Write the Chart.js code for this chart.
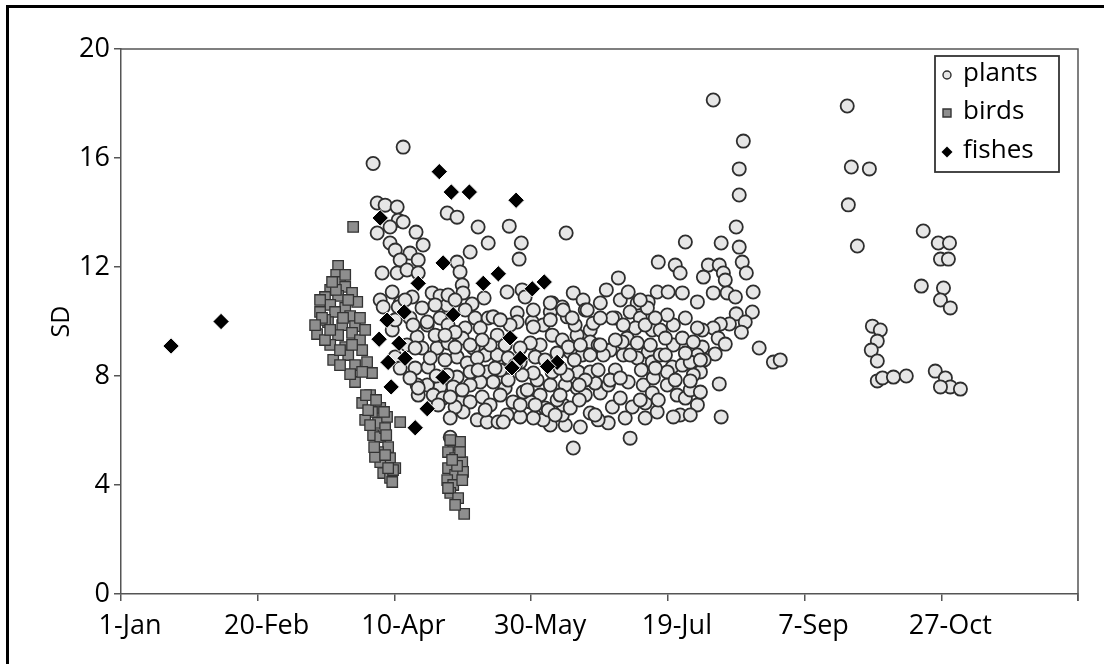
<!DOCTYPE html>
<html><head><meta charset="utf-8">
<script src="https://cdn.jsdelivr.net/npm/chart.js@4.4.1/dist/chart.umd.min.js"></script>
<style>
html,body{margin:0;padding:0;background:#fff;}
#wrap{position:relative;width:1104px;height:664px;overflow:hidden;background:#fff;}
#frame{position:absolute;left:6px;top:5px;width:1200px;height:800px;border:3px solid #000;box-sizing:border-box;pointer-events:none;}
canvas{position:absolute;left:0;top:0;}
</style></head><body>
<div id="wrap"><canvas id="c" width="1104" height="664"></canvas><div id="frame"></div></div>
<script>
// x = day of year (0 = 1-Jan), y = SD
const xTicks = [0, 50, 100, 150, 200, 250, 300, 350];
const xTickLabels = ['1-Jan', '20-Feb', '10-Apr', '30-May', '19-Jul', '7-Sep', '27-Oct', ''];
const yTicks = [0, 4, 8, 12, 16, 20];
const seriesNames = ['plants', 'birds', 'fishes'];

const plants = [
[103.2,16.4],[92.2,15.8],[93.7,14.35],[96.6,14.27],[101.0,14.2],[101.4,13.72],[93.7,13.25],[98.4,13.47],[103.2,13.65],[119.3,13.98],[122.9,13.83],[130.6,13.47],[134.3,12.88],[127.7,12.55],[107.9,13.28],[110.5,12.81],[98.4,12.88],[100.3,12.62],[105.7,12.51],[102.1,12.26],[108.7,12.26],[95.5,11.78],[101.0,11.78],[104.6,11.89],[108.7,11.78],[122.9,12.18],[124.0,11.82],[124.8,11.34],[125.1,11.05],[99.2,11.08],[94.8,10.79],[106.5,10.90],[113.8,11.05],[116.7,10.94],[132.8,10.86],[128.4,10.64],
[142.0,13.50],[146.4,12.88],[145.6,12.29],[162.8,13.25],[206.4,12.92],[196.5,12.18],[202.7,12.07],[204.5,11.78],[181.9,11.60],[177.5,11.16],[165.4,11.05],[169.0,10.79],[157.7,10.68],[141.2,11.08],[146.7,11.16],[196.1,11.08],[200.1,11.08],[205.3,11.05],[210.8,10.72],[192.8,10.72],[147.8,10.9],[188.8,10.68],[102.1,10.68],[119.3,10.6],
[216.6,18.13],[227.6,16.62],[226.1,15.60],[226.1,14.64],[225.0,13.47],[219.5,12.88],[226.1,12.73],[227.2,12.18],[228.7,11.78],[214.8,12.07],[218.8,12.07],[213.0,11.63],[220.3,11.78],[221.0,11.52],[231.2,11.08],[216.6,11.05],[221.7,11.05],[224.7,10.90],
[265.6,17.91],[267.1,15.67],[273.7,15.60],[266.0,14.28],[269.3,12.77],
[230.9,10.35],[225.0,10.28],[228.3,9.98],[222.5,9.91],[219.2,9.91],[216.6,9.76],[226.9,9.61],[212.6,9.69],[218.4,9.39],[221.0,9.17],[212.6,9.06],[217.3,8.81],[213.3,8.59],[211.9,8.15],[233.4,9.03],[238.6,8.51],[241.1,8.59],[218.8,7.71],[219.5,6.50],
[274.8,9.83],[277.7,9.69],[276.6,9.28],[274.4,8.95],[276.6,8.55],[276.6,7.82],[278.5,7.93],[282.5,7.96],
[287.2,8.0],[297.8,8.18],[301.5,7.93],[303.3,7.60],[299.7,7.60],[307.0,7.52],
[293.4,13.32],[298.9,12.88],[303.0,12.88],[299.7,12.29],[302.6,12.29],[292.7,11.30],[300.8,11.23],[299.7,10.79],[303.3,10.50],
[95.9,10.53],[101.4,10.53],[110.1,10.50],[105.7,10.13],[112.0,9.87],[116.7,10.13],[119.6,9.87],[125.9,10.42],[129.5,10.13],[134.3,10.13],[131.4,9.76],[125.9,9.76],[137.6,9.50],[108.3,9.43],[104.6,9.14],[110.1,9.03],[115.6,9.03],[119.6,9.21],[124.8,9.39],[128.8,9.03],[133.2,8.77],[137.6,8.77],[100.3,8.70],[102.1,8.29],[107.6,8.29],[112.3,8.33],[122.9,8.70],[126.6,8.48],[130.3,8.66],[133.9,8.15],[136.1,7.78],[131.4,7.78],[127.7,7.67],[122.9,7.96],[121.5,7.60],[116.7,7.60],[112.0,7.67],[108.3,7.67],[108.7,7.30],[114.2,7.30],[117.8,7.19],[124.0,7.05],[127.7,7.05],[132.1,7.23],[135.0,6.94],[125.1,6.68],[130.3,6.39],[133.9,6.31],[137.9,6.31],[116.0,6.94],[122.2,6.86],
[106.8,9.87],[112.0,9.98],[107.6,9.03],[108.7,7.56],[120.4,5.75],
[144.9,10.31],[150.4,9.98],[154.4,9.87],[157.0,10.35],[163.2,10.17],[161.4,10.53],[169.8,10.42],[180.8,10.13],[186.2,10.35],[189.9,10.13],[192.5,10.50],[188.1,9.76],[185.1,9.39],[188.8,9.21],[192.8,8.88],[188.8,8.66],[183.7,8.77],[178.9,8.95],[176.4,8.77],[180.8,8.22],[185.5,7.78],[191.0,7.67],[194.7,7.93],[202.0,9.14],[205.3,9.39],[209.3,9.25],[201.6,8.33],[205.3,8.40],[209.3,8.04],[203.4,7.30],[199.8,7.67],[206.4,7.19],[204.5,6.57],[202.0,6.50],[196.1,6.68],[191.7,7.01],[187.0,6.86],[179.7,6.86],[175.3,7.38],[178.2,7.67],[173.4,7.74],[171.6,9.69],[171.6,9.25],[166.8,9.50],[164.3,8.88],[168.7,8.77],[167.2,8.15],[171.6,8.15],[166.8,7.56],[169.8,7.30],[171.6,6.64],[168.0,6.13],[162.5,6.20],[157.0,6.20],[154.4,6.39],[150.8,6.46],[146.0,6.50],[141.2,6.57],[139.8,6.31],[161.4,6.57],[161.7,6.94],[164.3,6.83],[159.5,7.12],[153.3,7.30],[149.7,7.05],[147.1,7.41],[143.4,7.05],[140.5,7.56],[152.2,7.85],[148.6,7.49],[157.0,7.67],[162.5,7.67],[163.2,8.04],[157.7,8.15],[150.8,8.11],[146.7,8.04],[141.6,7.85],[153.3,9.14],[149.7,9.21],[146.0,9.03],[157.7,9.50],[161.4,9.32],[163.6,9.06],[168.0,9.14],[159.5,8.84],[166.1,9.87],[178.2,6.28],[186.2,5.72],[165.4,5.36],[179.7,10.13],[183.7,9.87],[174.5,8.22],[178.9,7.85],[194.3,8.51],[197.2,8.77],[199.8,8.15],[194.3,7.38],[206.4,10.13],[202.0,9.87],[210.8,9.76],[210.8,8.77],[210.8,6.94],[199.8,10.24],[194.3,9.69],
[99.2,9.69],[114.9,9.50],[122.2,9.61],[135.0,9.14],[118.5,8.59],[127.7,8.15],[120.4,6.46],[140.5,9.14],[141.6,8.66],[138.7,8.22],
[119.6,10.97],[136.1,10.17],[150.8,10.42],[157.0,10.68],[161.7,10.42],[170.5,10.42],[172.7,9.94],[157.0,10.06],[150.8,9.80],[144.9,9.98],
[182.6,10.79],[175.3,10.13],[197.2,9.69],[191.7,9.87],[183.3,9.25],[193.6,9.14],[199.1,8.77],[190.3,8.22],[182.6,7.19],[196.5,7.12],[208.2,7.49],[208.2,8.51],[191.7,6.46],[184.4,6.46],
[146.0,8.51],[142.3,9.87],[151.5,8.70],[155.1,6.83],[146.0,6.94],[167.6,7.12],[174.5,6.39],
[103.9,10.79],[114.9,10.61],[122.2,10.79],[100.3,10.06],[118.5,9.50],[127.7,9.14],[132.1,9.32],[138.7,10.06],[113.1,8.66],[122.2,9.06],[136.8,8.29],[130.6,8.22],[124.8,7.49],[119.3,8.04],[115.3,8.00],[105.7,7.93],[133.2,6.75],[138.7,7.30],[120.4,7.23],
[144.2,8.40],[155.1,8.59],[160.6,8.29],[165.8,8.59],[171.6,8.77],[174.5,9.14],[169.8,7.85],[160.6,7.30],[156.3,6.75],[173.4,6.57],
[165.0,10.13],[175.3,10.68],[189.9,10.79],[185.5,11.08],[195.4,10.13],[175.3,9.14],[180.8,9.32],[186.2,8.77],[195.4,8.29],[202.7,7.85],[211.9,7.41],[211.9,8.59],[182.6,7.93],[189.9,7.12],[208.2,6.57],[158.8,6.57],[151.5,6.94],[167.6,7.67],[206.4,8.84],[199.1,9.39],[208.2,7.82]
];

const birds = [
[84.9,13.47],[79.4,12.04],[78.7,11.71],[80.1,11.45],[76.5,11.16],[82.0,11.27],[74.6,10.90],[79.4,10.94],[84.5,11.05],[86.4,10.72],[76.5,10.61],[82.0,10.50],[72.8,10.35],[78.3,10.35],[83.8,10.20],[75.7,9.98],[80.9,9.87],[85.6,9.83],[71.7,9.54],[79.4,9.50],[84.5,9.58],[87.4,9.32],[76.5,9.14],[82.0,9.06],[77.6,8.59],[83.1,8.77],[88.2,8.95],[85.6,8.40],[90.0,8.51],[91.8,8.11],[85.6,7.78],[83.8,8.07],[80.1,8.95],[74.6,10.06],[78.6,11.16],
[73.5,10.13],[81.2,10.13],[87.4,10.13],[83.1,10.79],[74.6,9.32],[89.3,9.69],[80.1,8.40],[88.2,8.15],[76.5,9.69],[84.5,9.14],[82.0,11.71],[77.2,11.45],[72.8,10.79],[71.0,9.87],
[91.1,7.30],[88.2,7.01],[94.8,6.83],[91.8,6.68],[89.3,6.39],[94.0,6.28],[97.3,6.50],[92.2,5.83],[94.8,5.76],[97.7,5.39],[94.0,5.21],[98.4,4.99],[94.8,4.84],[100.3,4.62],[95.9,4.44],[98.4,4.26],[92.9,5.03],[102.1,6.31],[90.4,6.75],[96.6,6.09],[99.5,4.55],
[89.6,7.30],[93.3,7.12],[96.2,6.68],[91.1,6.20],[97.0,5.83],[92.6,5.39],[96.6,5.10],[97.7,4.62],[99.2,4.11],
[121.5,5.47],[124.0,5.58],[119.6,5.21],[122.2,4.99],[124.8,4.84],[119.6,4.62],[122.2,4.37],[125.1,4.48],[119.3,4.18],[121.5,4.00],[120.4,3.71],[123.3,3.52],[125.5,2.94],[122.9,4.70],
[120.4,5.65],[124.0,5.21],[121.1,4.92],[124.8,4.18],[119.6,3.89],[122.2,3.27]
];

const fishes = [
[18.3,9.1],[36.6,10.0],[94.8,13.8],[116.4,15.5],[120.8,14.75],[127.4,14.75],[144.5,14.45],[117.8,12.15],[108.7,11.4],[132.5,11.4],[138.0,11.75],[150.4,11.2],[154.8,11.45],[97.3,10.05],[103.6,10.35],[121.5,10.25],[94.4,9.35],[101.7,9.2],[97.7,8.5],[103.9,8.65],[117.8,7.95],[98.8,7.6],[112.0,6.8],[107.6,6.1],[142.3,9.4],[146.0,8.65],[143.0,8.3],[159.5,8.5],[156.0,8.35]
];

const toXY = arr => arr.map(p => ({x: p[0], y: p[1]}));
const FONT = "'Open Sans', 'Noto Sans', sans-serif";

const styles = [
  {pointStyle: 'circle', radius: 6.6, bg: '#e6e6e6', border: '#2e2e2e', bw: 1.8},
  {pointStyle: 'rect', radius: 7.4, bg: '#8e8e8e', border: '#333333', bw: 1.3},
  {pointStyle: 'rectRot', radius: 8.2, bg: '#000000', border: '#ffffff', bw: 1}
];

const frameAndLegend = {
  id: 'frameAndLegend',
  beforeDatasetsDraw(chart) {
    const {ctx, chartArea: a} = chart;
    ctx.save();
    ctx.strokeStyle = '#555';
    ctx.lineWidth = 1.5;
    ctx.beginPath();
    ctx.moveTo(a.left, a.top);
    ctx.lineTo(a.right, a.top);
    ctx.lineTo(a.right, a.bottom + 7);
    ctx.stroke();
    ctx.restore();
  },
  afterDatasetsDraw(chart) {
    const {ctx, chartArea: a} = chart;
    const bx = a.right - 143, by = a.top + 7, bw = 124, bh = 116;
    ctx.save();
    ctx.fillStyle = '#fff';
    ctx.fillRect(bx, by, bw, bh);
    ctx.strokeStyle = '#333';
    ctx.lineWidth = 1.8;
    ctx.strokeRect(bx, by, bw, bh);
    const rows = [by + 19, by + 57, by + 96];
    const mx = bx + 12;
    ctx.lineWidth = 1.4;
    ctx.fillStyle = styles[0].bg; ctx.strokeStyle = styles[0].border;
    ctx.beginPath(); ctx.arc(mx, rows[0], 4, 0, Math.PI * 2); ctx.fill(); ctx.stroke();
    ctx.fillStyle = styles[1].bg; ctx.strokeStyle = styles[1].border;
    ctx.beginPath(); ctx.rect(mx - 4, rows[1] - 4, 8, 8); ctx.fill(); ctx.stroke();
    ctx.fillStyle = '#000';
    ctx.beginPath(); ctx.moveTo(mx, rows[2] - 5.5); ctx.lineTo(mx + 5.5, rows[2]); ctx.lineTo(mx, rows[2] + 5.5); ctx.lineTo(mx - 5.5, rows[2]); ctx.closePath(); ctx.fill();
    ctx.fillStyle = '#000';
    ctx.font = "26px " + FONT;
    ctx.textBaseline = 'middle';
    ctx.textAlign = 'left';
    chart.data.datasets.forEach((d, i) => ctx.fillText(d.label, bx + 28, rows[i] - 1));
    ctx.restore();
  }
};

new Chart(document.getElementById('c'), {
  type: 'scatter',
  data: {
    datasets: [plants, birds, fishes].map((arr, i) => ({
      label: seriesNames[i],
      data: toXY(arr),
      pointStyle: styles[i].pointStyle,
      pointRadius: styles[i].radius,
      pointHoverRadius: styles[i].radius,
      pointBackgroundColor: styles[i].bg,
      pointBorderColor: styles[i].border,
      pointBorderWidth: styles[i].bw,
      backgroundColor: styles[i].bg,
      borderColor: styles[i].border,
      showLine: false,
      order: 3 - i,
      clip: false
    }))
  },
  options: {
    responsive: false,
    animation: false,
    devicePixelRatio: 1,
    layout: {padding: {left: 0, top: 49, right: 26, bottom: 0}},
    plugins: {legend: {display: false}, tooltip: {enabled: false}},
    scales: {
      x: {
        type: 'linear', min: 0, max: 350,
        afterBuildTicks: s => { s.ticks = xTicks.map(v => ({value: v})); },
        ticks: {
          callback: v => { const i = xTicks.indexOf(v); return i >= 0 ? xTickLabels[i] : ''; },
          font: {family: FONT, size: 27}, color: '#000', padding: 9, labelOffset: 9, maxRotation: 0, autoSkip: false
        },
        grid: {drawOnChartArea: false, tickLength: 7, color: '#555', lineWidth: 1.5},
        border: {color: '#555', width: 1.5},
        afterFit: s => { s.height = 70; }
      },
      y: {
        min: 0, max: 20,
        afterBuildTicks: s => { s.ticks = yTicks.map(v => ({value: v})); },
        ticks: {font: {family: FONT, size: 27}, color: '#000', padding: 4},
        grid: {drawOnChartArea: false, tickLength: 7, color: '#555', lineWidth: 1.5},
        border: {color: '#555', width: 1.5},
        title: {display: true, text: 'SD', font: {family: FONT, size: 25}, color: '#000', padding: {top: 47, bottom: 0}},
        afterFit: s => { s.width = 121; }
      }
    }
  },
  plugins: [frameAndLegend]
});
</script>
</body></html>
